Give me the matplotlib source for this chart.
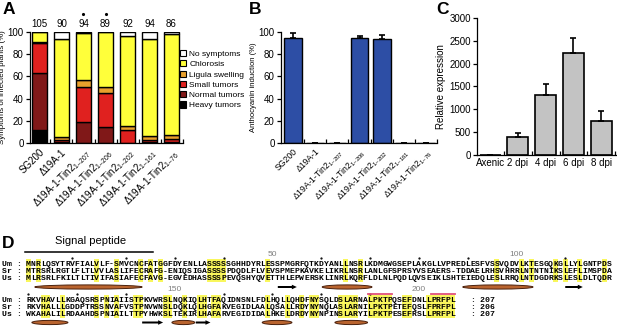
import numpy as np
import matplotlib.pyplot as plt
from matplotlib.patches import Patch, Rectangle, Ellipse, FancyArrow

plt.rcParams['font.family'] = ['Liberation Sans', 'DejaVu Sans']
plt.rcParams['mathtext.fontset'] = 'custom'
plt.rcParams['mathtext.rm'] = 'Liberation Sans'
plt.rcParams['axes.linewidth'] = 0.9
plt.rcParams['xtick.major.width'] = 0.9
plt.rcParams['ytick.major.width'] = 0.9
plt.rcParams['xtick.minor.width'] = 0.9

W, H = 617, 326

# ---- panel A: disease symptoms (%)
def tin2(rng):
    return 'Δ19A-1-Tin2$_{\\mathregular{' + rng + '}}$'

strains = ['SG200', 'Δ19A-1', tin2('1–207'), tin2('1–206'),
           tin2('1–202'), tin2('1–161'), tin2('1–76')]
n_plants = [105, 90, 94, 89, 92, 94, 86]
marked = [False, False, True, True, False, False, False]
heavy = [12, 0, 0, 0, 0, 0, 0]
normal = [51, 1, 18.6, 14, 0, 1, 1]
small = [27, 2, 31.6, 31, 12, 2, 3]
ligula = [0.8, 2.5, 6.6, 5.5, 3, 3, 3.5]
chlorosis = [9.2, 88.5, 42, 49.5, 81, 88, 90.3]
no_symptoms = [0, 6, 1.2, 0, 4, 6, 2.2]

# ---- panel B: anthocyanin induction (%)
antho = [95, 0, 0, 95, 94, 0, 0]
antho_err = [4.5, 0, 0, 1.5, 3.5, 0, 0]

# ---- panel C: tin2 expression
timepoints = ['Axenic', '2 dpi', '4 dpi', '6 dpi', '8 dpi']
expr = [0, 395, 1315, 2240, 745]
expr_err = [0, 85, 240, 330, 220]

# ---- panel D: alignment
seq_names = ['Um', 'Sr', 'Us']
block1 = [
    'MNRLQSYTRVFIALVLF-SMVCNCFATGGFDYENLLASSSSSGHHDYRLESSPMGRFQ'
    'TKDYANLLNSRLKDMGWGSEPLAKGLLVPREDLESFVSSVQDVLKTESGQKGLLYLGNTPDS',
    'MTRSRLRGTLFLTLVVLASLIFECRAFG-ENIQSIGASSSSPDQDLFLVEVSPMEPKA'
    'VKELIKRLNSRLANLGFSPRSYVSEAERS-TDDAELRHSVHRRLNTNTNIKSLEFLIMSPDA',
    'MLRSRLFKILTLTIVIFASIAFECFAVG-EGVEDHASSSSPEVQSHYQVETTHLEPWE'
    'RSKLINRLKQRFLDLNLPQDLQVSEIKLSHTEIEDQLESLRRQLNTDGDRKSLESLDLTQDR',
]
block2 = [
    'RKVHAVLLKGAQSRSPNIAIISTPKVWRSLNQKIQLHTFAQIDNSNLFDLHQLLQHDF'
    'NYSQLDSLARNALPKTPQSEFDNLLPRFPL',
    'RKVHALLLGDDPTRSSNVAFVSTPNVWNSLDQKLQLHGFAKVEGIDLAALQSALLRDY'
    'NYNQLASLARNILPKTPETEFQSLFPRFPL',
    'WKAHALILRDAAHDSPNIAILTTPYHWKSLTEKIRLHAFARVEGIDIDALHKELDRDY'
    'NYNPINSLARYILPKTPESEFRSLLPRFPL',
]
seq_lengths = ['207', '206', '207']
hl1 = [1, 3, 15, 19, 24, 26, 28, 38, 39, 40, 41, 50, 66, 69, 97, 102, 104,
       109, 111, 114, 119]
hl2 = [4, 5, 8, 15, 17, 19, 23, 24, 29, 30, 33, 36, 37, 39, 40, 50, 54, 57,
       59, 60, 65, 66, 67, 68, 71, 72, 73, 74, 75, 78, 79, 83, 84, 85, 86,
       87, 88]
helix1 = [(1.8, 23.8), (60.7, 70.9), (89.5, 103.9)]
strand1 = [(51.6, 55.5), (110.5, 114.1)]
helix2 = [(1.2, 8.6), (29.9, 34.6), (48.4, 54.5), (63.3, 70)]
strand2 = [(23.8, 28.1), (34.8, 37.8)]
motifs2 = [(71, 75), (84, 88)]

fig = plt.figure(figsize=(W / 100, H / 100), dpi=100)


def px_axes(left, right, top, bottom):
    return fig.add_axes([left / W, 1 - bottom / H, (right - left) / W,
                         (bottom - top) / H])


# alignment canvas in pixel units (added first so it sits underneath)
ax_d = fig.add_axes([0, 0, 1, 1])
ax_d.set_xlim(0, W)
ax_d.set_ylim(H, 0)
ax_d.axis('off')

# ---------------- A
ax = px_axes(30, 183, 32, 143)
x = np.arange(len(strains))
layers = [(heavy, '#000000', 'Heavy tumors'),
          (normal, '#801818', 'Normal tumors'),
          (small, '#E0211F', 'Small tumors'),
          (ligula, '#E9A02C', 'Ligula swelling'),
          (chlorosis, '#FFFF3A', 'Chlorosis'),
          (no_symptoms, '#FFFFFF', 'No symptoms')]
bottom = np.zeros(len(strains))
for vals, col, lab in layers:
    ax.bar(x, vals, 0.68, bottom=bottom, color=col, edgecolor='black',
           linewidth=1.0, label=lab)
    bottom += np.array(vals)
ax.set_xlim(-0.43, 6.52)
ax.set_ylim(0, 100)
ax.set_yticks(range(0, 101, 20))
ax.set_xticks(x)
ax.set_xticklabels(strains, rotation=45, ha='right', rotation_mode='anchor',
                   fontsize=7)
ax.set_xticks(x + 0.5, minor=True)
ax.tick_params(axis='x', which='major', length=0, pad=3)
ax.tick_params(axis='x', which='minor', direction='in', length=3)
ax.tick_params(axis='y', direction='out', length=3, labelsize=7, pad=1.5)
for s in ['top', 'right']:
    ax.spines[s].set_visible(False)
ax.set_ylabel('Symptoms of infected plants (%)', fontsize=5.7, labelpad=1)
for i, n in enumerate(n_plants):
    ax.text(i, 102.5, str(n), ha='center', va='bottom', fontsize=7)
    if marked[i]:
        ax.plot(i, 116, 'k.', ms=2.5, clip_on=False)
handles = [Patch(facecolor=c, edgecolor='black', linewidth=0.8, label=l)
           for _, c, l in layers[::-1]]
fig.legend(handles=handles, loc='upper left',
           bbox_to_anchor=(180 / W, 1 - 50 / H), frameon=False, fontsize=6,
           handlelength=0.75, handleheight=0.75, handletextpad=0.35,
           labelspacing=0.28, borderpad=0, borderaxespad=0)

# ---------------- B
ax = px_axes(281, 437, 32, 143)
ax.bar(x, antho, 0.8, color='#2D4EA5', edgecolor='black', linewidth=1.0,
       yerr=[np.zeros(len(antho)), antho_err], capsize=2.5,
       error_kw=dict(elinewidth=1.2, capthick=1.2, ecolor='black'))
ax.set_xlim(-0.55, 6.5)
ax.set_ylim(0, 100)
ax.set_yticks(range(0, 101, 20))
ax.set_xticks(x)
ax.set_xticklabels(strains, rotation=45, ha='right', rotation_mode='anchor',
                   fontsize=6.2)
ax.set_xticks(x + 0.5, minor=True)
ax.tick_params(axis='x', which='major', length=0, pad=3)
ax.tick_params(axis='x', which='minor', direction='in', length=3)
ax.tick_params(axis='y', direction='out', length=3, labelsize=7, pad=1.5)
for s in ['top', 'right']:
    ax.spines[s].set_visible(False)
ax.set_ylabel('Anthocyanin induction (%)', fontsize=5.5, labelpad=1)

# ---------------- C
ax = px_axes(477, 616, 18, 155)
xc = np.arange(len(timepoints))
ax.bar(xc, expr, 0.76, color='#C3C3C3', edgecolor='black', linewidth=1.2,
       yerr=[np.zeros(len(expr)), expr_err], capsize=2.5,
       error_kw=dict(elinewidth=1.2, capthick=1.2, ecolor='black'))
ax.set_xlim(-0.47, 4.53)
ax.set_ylim(0, 3000)
ax.set_yticks(range(0, 3001, 500))
ax.set_xticks(xc)
ax.set_xticklabels(timepoints, fontsize=7)
ax.set_xticks(xc + 0.5, minor=True)
ax.tick_params(axis='x', which='major', length=0, pad=2)
ax.tick_params(axis='x', which='minor', direction='in', length=3)
ax.tick_params(axis='y', direction='out', length=3, labelsize=7, pad=1.5)
for s in ['top', 'right']:
    ax.spines[s].set_visible(False)
ax.set_ylabel('Relative expression', fontsize=7, labelpad=2)

# ---------------- panel letters
for lab, (px, py) in zip('ABCD', [(8.5, 9), (255.5, 10), (442.5, 10),
                                  (8, 244)]):
    ax_d.text(px, py, lab, fontsize=12.5, fontweight='bold', ha='center',
              va='center')

# ---------------- D alignment
cw = 4.88
x0 = 26.0
mono = dict(family='Liberation Mono', fontsize=5.85, fontweight='bold',
            ha='center', va='center_baseline')


def colx(c):
    return x0 + (c - 0.5) * cw


def draw_block(block, rows_y, hls, helices, strands, feat_y, suffix,
               num_y, dot_y, res_start):
    top = rows_y[0] - 3.8
    height = rows_y[-1] - rows_y[0] + 7.6
    for c in hls:
        ax_d.add_patch(Rectangle((x0 + (c - 1) * cw, top), cw, height,
                                 facecolor='#F9F75C', edgecolor='none',
                                 zorder=0))
    for name, seq, y, tail in zip(seq_names, block, rows_y, suffix):
        line = name + ' : ' + seq + tail
        for j, ch in enumerate(line):
            if ch != ' ':
                ax_d.text(colx(j - 4), y, ch, zorder=2, **mono)
    # numbering follows the first sequence
    res = res_start
    for c, ch in enumerate(block[0], start=1):
        if ch == '-':
            continue
        res += 1
        if res % 50 == 0:
            ax_d.text(colx(c), num_y, str(res), fontsize=6, color='#808080',
                      ha='center', va='center')
        elif res % 10 == 0:
            ax_d.plot(colx(c), dot_y, 'k.', ms=1.2)
    for a, b in helices:
        ax_d.add_patch(Ellipse(((x0 + a * cw + x0 + b * cw) / 2, feat_y),
                               (b - a) * cw, 4.2, facecolor='#B9642F',
                               edgecolor='#4A200C', linewidth=0.7))
    for a, b in strands:
        ax_d.add_patch(FancyArrow(x0 + a * cw, feat_y, (b - a) * cw, 0,
                                  width=2.0, head_width=4.6, head_length=5,
                                  length_includes_head=True, color='black',
                                  linewidth=0))
    return res


ax_d.text(91, 241, 'Signal peptide', fontsize=8, ha='center', va='center')
ax_d.plot([25, 153], [252, 252], color='black', lw=1.1)

rows1 = [263, 270.5, 278]
last = draw_block(block1, rows1, hl1, helix1, strand1, 287, ['', '', ''],
                  254, 258, 0)
rows2 = [299, 306.5, 314]
draw_block(block2, rows2, hl2, helix2, strand2, 322.5,
           ['   : ' + s for s in seq_lengths], 289.5, 293.5, last)
for a, b in motifs2:
    ax_d.plot([x0 + (a - 1) * cw, x0 + b * cw], [293.5, 293.5],
              color='#E0507A', lw=1.3)

fig.savefig('out.png', dpi=100)
